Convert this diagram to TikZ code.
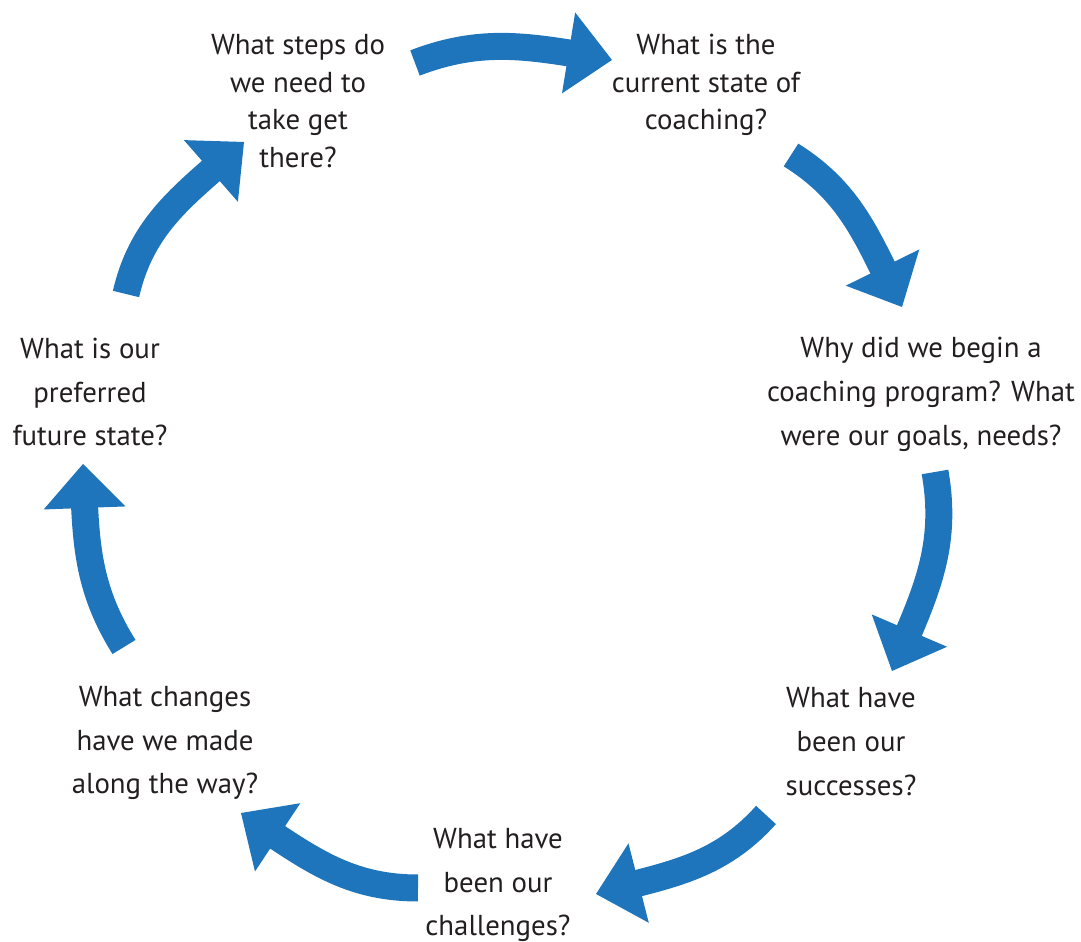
\documentclass[tikz,border=0pt]{standalone}
\usepackage{fontspec}
\setmainfont{PT Sans}
\usetikzlibrary{arrows.meta,bending}
\definecolor{cycleblue}{HTML}{1F75BC}
\definecolor{textdark}{HTML}{231F20}

\begin{document}
\begin{tikzpicture}[x=0.02cm, y=0.02cm,
  qtext/.style={align=center, text=textdark, font=\fontsize{16.4}{25}\selectfont, inner sep=2pt},
  qtop/.style={qtext, font=\fontsize{16.4}{21.3}\selectfont},
  cyc/.style={cycleblue, line width=0.54cm, -{Triangle[width=1.64cm, length=0.88cm, line width=0pt, flex]}}]
  \useasboundingbox (0,0) rectangle (1081,942);

  % the seven questions, clockwise from the top
  \node[qtop] (steps) at (298,841) {What steps do\\we need to\\take get\\there?};
  \node[qtop] (current) at (706,857) {What is the\\current state of\\coaching?};
  \node[qtext] (why) at (921,548) {Why did we begin a\\coaching program? What\\were our goals, needs?};
  \node[qtext] (successes) at (851,200) {What have\\been our\\successes?};
  \node[qtext] (challenges) at (498,57) {What have\\been our\\challenges?};
  \node[qtext] (changes) at (165,199) {What changes\\have we made\\along the way?};
  \node[qtext] (future) at (90,550) {What is our\\preferred\\future state?};

  % arrows round the cycle
  \draw[cyc] ([shift={(117,38)}]steps.center) to[out=21, in=171] ([shift={(-94,25)}]current.center);
  \draw[cyc] ([shift={(85,-70)}]current.center) to[out=-32, in=117] ([shift={(-19,87)}]why.center);
  \draw[cyc] ([shift={(14,-78)}]why.center) to[out=-80, in=67] ([shift={(41,71)}]successes.center);
  \draw[cyc] ([shift={(-85,-73)}]successes.center) to[out=228, in=15] ([shift={(98,-9)}]challenges.center);
  \draw[cyc] ([shift={(-80,-3)}]challenges.center) to[out=180, in=-33] ([shift={(76,-70)}]changes.center);
  \draw[cyc] ([shift={(-41,96)}]changes.center) to[out=122, in=-88] ([shift={(-7,-72)}]future.center);
  \draw[cyc] ([shift={(36,98)}]future.center) to[out=77, in=-138] ([shift={(-54,-41)}]steps.center);
\end{tikzpicture}
\end{document}
